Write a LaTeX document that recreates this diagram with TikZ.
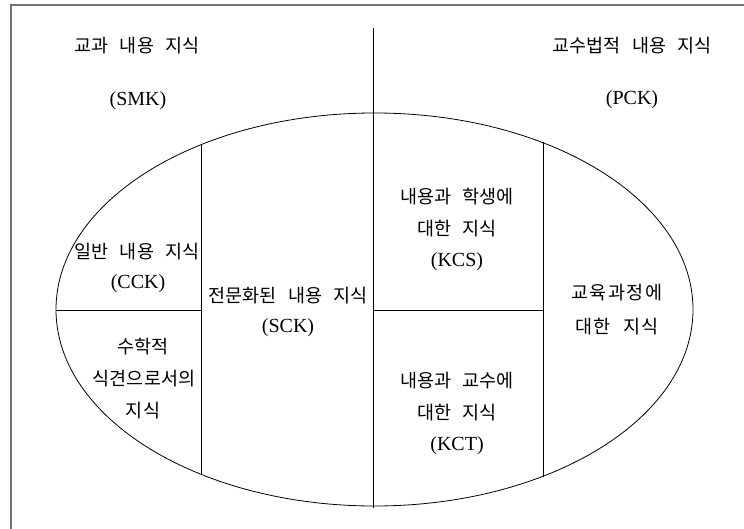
\documentclass[tikz,border=0pt]{standalone}
\usepackage{fontspec}
\usetikzlibrary{shapes.geometric}
\setmainfont{Liberation Serif}
\newfontfamily\kr{Noto Sans CJK KR}
\newcommand{\ksp}{\hspace{0.6em}}
\begin{document}
\begin{tikzpicture}[x=1pt,y=-1pt,
  kt/.style={font=\kr\fontsize{18.5}{20}\selectfont, inner sep=0pt, anchor=center},
  ktw/.style={font=\kr\fontsize{18.5}{20}\selectfont\addfontfeature{LetterSpace=8}, inner sep=0pt, anchor=center},
  lt/.style={font=\fontsize{20}{22}\selectfont, inner sep=0pt, anchor=center},
  frame/.style={draw=black!55, line width=1.6pt},
  part/.style={draw=black, line width=0.8pt}]
\useasboundingbox (0,0) rectangle (744,529);
% frame (cropped)
\coordinate (ftl) at (11,5);
\coordinate (ftr) at (744,5);
\coordinate (fbl) at (11,529);
\draw[frame] (fbl) -- (ftl) -- (ftr);
% ellipse
\node[draw=black, line width=0.8pt, ellipse, minimum width=637pt, minimum height=393pt, inner sep=0pt] (ell) at (374.5,309.5) {};
% dividing lines
\coordinate (ctop) at (373,28);
\coordinate (cbot) at (373,508);
\draw[part] (ctop) -- (cbot);
\coordinate (l1t) at (201.7,145);
\coordinate (l1b) at (201.7,475);
\draw[part] (l1t) -- (l1b);
\coordinate (r1t) at (543,142.5);
\coordinate (r1b) at (543,476.5);
\draw[part] (r1t) -- (r1b);
\coordinate (hl1) at (56,310);
\coordinate (hl2) at (201.7,310);
\draw[part] (hl1) -- (hl2);
\coordinate (hr1) at (373,310);
\coordinate (hr2) at (543,310);
\draw[part] (hr1) -- (hr2);
% texts
\node[kt] (smk1) at (137,46) {교과\ksp 내용\ksp 지식};
\node[lt] (smk2) at (138,101) {(SMK)};
\node[kt] (pck1) at (632,46) {교수법적\ksp 내용\ksp 지식};
\node[lt] (pck2) at (632,100) {(PCK)};
\node[kt] (cck1) at (137,252) {일반\ksp 내용\ksp 지식};
\node[lt] (cck2) at (138,284) {(CCK)};
\node[kt] (mk1) at (143,347) {수학적};
\node[kt] (mk2) at (144,379) {식견으로서의};
\node[kt] (mk3) at (143,411) {지식};
\node[kt] (sck1) at (288,296) {전문화된\ksp 내용\ksp 지식};
\node[lt] (sck2) at (288,328) {(SCK)};
\node[kt] (kcs1) at (457,197) {내용과\ksp 학생에};
\node[kt] (kcs2) at (457,229) {대한\ksp 지식};
\node[lt] (kcs3) at (457,262) {(KCS)};
\node[kt] (kct1) at (457,381) {내용과\ksp 교수에};
\node[kt] (kct2) at (457,413) {대한\ksp 지식};
\node[lt] (kct3) at (457,446) {(KCT)};
\node[ktw] (kcc1) at (617,293) {교육과정에};
\node[ktw] (kcc2) at (617,327) {대한\hspace{0.7em}지식};
\end{tikzpicture}
\end{document}
